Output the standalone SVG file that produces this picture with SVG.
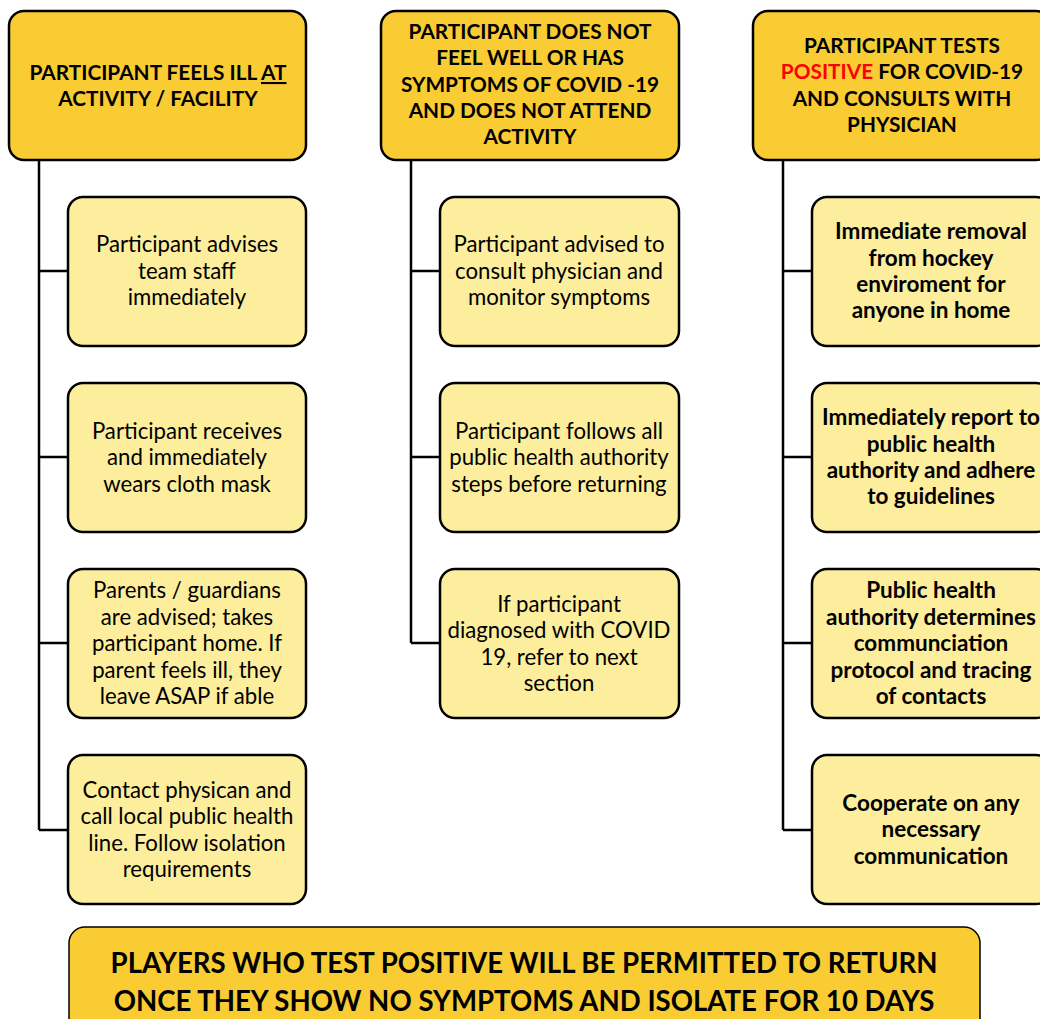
<svg xmlns="http://www.w3.org/2000/svg" width="1040" height="1019" viewBox="0 0 1040 1019">
<style>
.hdr{fill:#F9CC33;stroke:#000;stroke-width:2.5}
.box{fill:#FCEE9D;stroke:#000;stroke-width:2.5}
.ban{fill:#F9CC33;stroke:#000;stroke-width:1.5}
text{font-family:Lato,"Open Sans","Liberation Sans",sans-serif;fill:#000;text-anchor:middle}
.h{font-size:20.8px;font-weight:bold}
.t{font-size:22.2px}
.b{font-size:22.5px;font-weight:bold}
.bt{font-size:27.6px;font-weight:bold}
.con{stroke:#000;stroke-width:2.5;fill:none}
</style>
<rect x="0" y="0" width="1040" height="1019" fill="#fff"/>
<g id="connectors">
<path class="con" d="M39 160V830M39 271H68M39 457H68M39 643H68M39 830H68"/>
<path class="con" d="M411 160V643M411 271H440M411 457H440M411 643H440"/>
<path class="con" d="M783 160V830M783 271H812M783 457H812M783 643H812M783 830H812"/>
</g>
<g id="h1"><rect class="hdr" x="9" y="11" width="297" height="149" rx="15"/>
<text class="h"><tspan x="158" y="80">PARTICIPANT FEELS ILL <tspan text-decoration="underline">AT</tspan></tspan><tspan x="158" y="106">ACTIVITY / FACILITY</tspan></text></g>
<g id="h2"><rect class="hdr" x="381" y="11" width="298" height="149" rx="15"/>
<text class="h"><tspan x="530" y="39">PARTICIPANT DOES NOT</tspan><tspan x="530" y="65">FEEL WELL OR HAS</tspan><tspan x="530" y="92">SYMPTOMS OF COVID -19</tspan><tspan x="530" y="118">AND DOES NOT ATTEND</tspan><tspan x="530" y="144">ACTIVITY</tspan></text></g>
<g id="h3"><rect class="hdr" x="753" y="11" width="298" height="149" rx="15"/>
<text class="h"><tspan x="902" y="53">PARTICIPANT TESTS</tspan><tspan x="902" y="79"><tspan fill="#FF0000">POSITIVE</tspan> FOR COVID-19</tspan><tspan x="902" y="106">AND CONSULTS WITH</tspan><tspan x="902" y="132">PHYSICIAN</tspan></text></g>

<g id="n1a"><rect class="box" x="68" y="197" width="238" height="149" rx="15"/>
<text class="t"><tspan x="187" y="252">Participant advises</tspan><tspan x="187" y="279">team staff</tspan><tspan x="187" y="305">immediately</tspan></text></g>
<g id="n1b"><rect class="box" x="68" y="383" width="238" height="149" rx="15"/>
<text class="t"><tspan x="187" y="439">Participant receives</tspan><tspan x="187" y="465">and immediately</tspan><tspan x="187" y="492">wears cloth mask</tspan></text></g>
<g id="n1c"><rect class="box" x="68" y="569" width="238" height="149" rx="15"/>
<text class="t"><tspan x="187" y="598">Parents / guardians</tspan><tspan x="187" y="625">are advised; takes</tspan><tspan x="187" y="651">participant home. If</tspan><tspan x="187" y="678">parent feels ill, they</tspan><tspan x="187" y="704">leave ASAP if able</tspan></text></g>
<g id="n1d"><rect class="box" x="68" y="755" width="238" height="149" rx="15"/>
<text class="t"><tspan x="187" y="798">Contact physican and</tspan><tspan x="187" y="824">call local public health</tspan><tspan x="187" y="851">line. Follow isolation</tspan><tspan x="187" y="877">requirements</tspan></text></g>

<g id="n2a"><rect class="box" x="440" y="197" width="239" height="149" rx="15"/>
<text class="t"><tspan x="559" y="252">Participant advised to</tspan><tspan x="559" y="279">consult physician and</tspan><tspan x="559" y="305">monitor symptoms</tspan></text></g>
<g id="n2b"><rect class="box" x="440" y="383" width="239" height="149" rx="15"/>
<text class="t"><tspan x="559" y="439">Participant follows all</tspan><tspan x="559" y="465">public health authority</tspan><tspan x="559" y="492">steps before returning</tspan></text></g>
<g id="n2c"><rect class="box" x="440" y="569" width="239" height="149" rx="15"/>
<text class="t"><tspan x="559" y="612">If participant</tspan><tspan x="559" y="638">diagnosed with COVID</tspan><tspan x="559" y="665">19, refer to next</tspan><tspan x="559" y="691">section</tspan></text></g>

<g id="n3a"><rect class="box" x="812" y="197" width="239" height="149" rx="15"/>
<text class="b"><tspan x="931" y="239">Immediate removal</tspan><tspan x="931" y="266">from hockey</tspan><tspan x="931" y="292">enviroment for</tspan><tspan x="931" y="318">anyone in home</tspan></text></g>
<g id="n3b"><rect class="box" x="812" y="383" width="239" height="149" rx="15"/>
<text class="b"><tspan x="931" y="425">Immediately report to</tspan><tspan x="931" y="452">public health</tspan><tspan x="931" y="478">authority and adhere</tspan><tspan x="931" y="504">to guidelines</tspan></text></g>
<g id="n3c"><rect class="box" x="812" y="569" width="239" height="149" rx="15"/>
<text class="b"><tspan x="931" y="598">Public health</tspan><tspan x="931" y="625">authority determines</tspan><tspan x="931" y="651">communciation</tspan><tspan x="931" y="678">protocol and tracing</tspan><tspan x="931" y="704">of contacts</tspan></text></g>
<g id="n3d"><rect class="box" x="812" y="755" width="239" height="149" rx="15"/>
<text class="b"><tspan x="931" y="811">Cooperate on any</tspan><tspan x="931" y="837">necessary</tspan><tspan x="931" y="864">communication</tspan></text></g>

<g id="banner"><rect class="ban" x="69" y="927" width="911" height="110" rx="16"/>
<text class="bt"><tspan x="524" y="973">PLAYERS WHO TEST POSITIVE WILL BE PERMITTED TO RETURN</tspan><tspan x="524" y="1011">ONCE THEY SHOW NO SYMPTOMS AND ISOLATE FOR 10 DAYS</tspan></text></g>
</svg>
